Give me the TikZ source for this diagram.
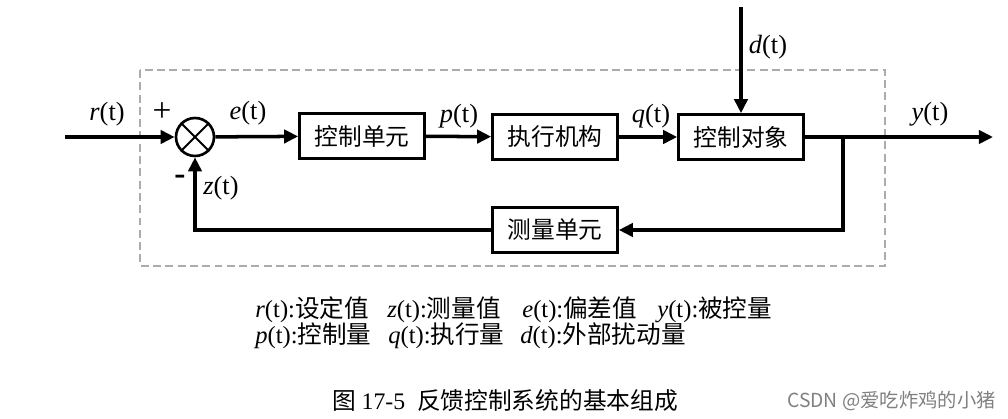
\documentclass[tikz,border=0pt]{standalone}
\usepackage{fontspec}
\setmainfont{Liberation Serif}
\newfontfamily\cjk{Noto Sans CJK SC}
\usetikzlibrary{arrows.meta}

\begin{document}
\begin{tikzpicture}[x=0.02cm, y=-0.02cm,
  blk/.style={draw, line width=1.5pt, minimum width=2.5cm, minimum height=0.9cm,
    inner sep=0pt, font=\cjk\fontsize{13.5}{15}\selectfont},
  sig/.style={line width=2pt, -{Triangle[length=8pt, width=7.5pt]}},
  lbl/.style={font=\fontsize{15}{17}\selectfont, inner sep=1pt},
  leg/.style={anchor=west, inner sep=0pt, font=\fontsize{14}{16}\selectfont}]
  \useasboundingbox (0,0) rectangle (1008,419);

  % system boundary
  \draw[gray!65, line width=1pt, dash pattern=on 4.5pt off 2.5pt] (140,70) rectangle (885,266);

  % blocks
  \node[draw, circle, line width=1.5pt, minimum size=0.76cm, inner sep=0pt] (sum) at (195,137) {};
  \draw[line width=1.2pt] (sum.45) -- (sum.225) (sum.135) -- (sum.315);
  \node[blk] (ctrl) at (362,136) {控制单元};
  \node[blk] (act) at (555,137) {执行机构};
  \node[blk] (plant) at (741,137) {控制对象};
  \node[blk] (meas) at (555,230) {测量单元};

  \coordinate (in) at (65,137);
  \coordinate (out) at (993,137);
  \coordinate (dist) at (741,7);
  \coordinate (br) at (843,137);

  % signals
  \draw[sig] (in) -- (sum);
  \draw[sig] (sum) -- (ctrl);
  \draw[sig] (ctrl) -- (act);
  \draw[sig] (act) -- (plant);
  \draw[sig] (dist) -- (plant);
  \draw[sig] (plant) -- (out);
  \draw[sig] (br) |- (meas);
  \draw[sig] (meas) -| (sum);

  % labels
  \node[lbl] (rl) at (107,114) {\textit{r}(t)};
  \node[lbl, font=\fontsize{19}{21}\selectfont] (plus) at (162,112) {+};
  \node[lbl, font=\bfseries\fontsize{19}{21}\selectfont] (minus) at (180,180) {-};
  \node[lbl] (el) at (248,113) {\textit{e}(t)};
  \node[lbl] (zl) at (221,188) {\textit{z}(t)};
  \node[lbl] (pl) at (459,116) {\textit{p}(t)};
  \node[lbl] (ql) at (651,116) {\textit{q}(t)};
  \node[lbl] (dl) at (768,47) {\textit{d}(t)};
  \node[lbl] (yl) at (930,114) {\textit{y}(t)};

  % legend
  \node[leg] (r) at (255,310) {\textit{r}(t):{\cjk 设定值}};
  \node[leg] (z) at (387,310) {\textit{z}(t):{\cjk 测量值}};
  \node[leg] (e) at (522,310) {\textit{e}(t):{\cjk 偏差值}};
  \node[leg] (y) at (657,310) {\textit{y}(t):{\cjk 被控量}};
  \node[leg] (p) at (255,336) {\textit{p}(t):{\cjk 控制量}};
  \node[leg] (q) at (388,336) {\textit{q}(t):{\cjk 执行量}};
  \node[leg] (d) at (520,336) {\textit{d}(t):{\cjk 外部扰动量}};

  \node[font=\fontsize{13.5}{15}\selectfont] (cap) at (505,401) {{\cjk 图} 17-5\enspace{\cjk 反馈控制系统的基本组成}};
  \node[anchor=east, gray, font=\cjk\fontsize{11}{13}\selectfont] (wm) at (1002,401) {CSDN @爱吃炸鸡的小猪};
\end{tikzpicture}
\end{document}
